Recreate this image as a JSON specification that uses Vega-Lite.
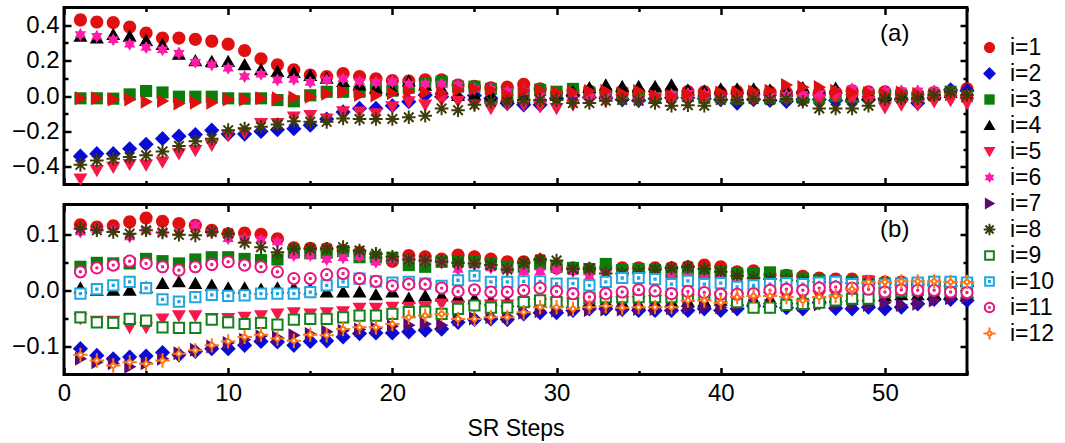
{
"$schema":"https://vega.github.io/schema/vega-lite/v6.json",
"background":"white",
"padding":{"left":5,"top":4.5,"right":0,"bottom":0},
"bounds":"flush",
"spacing":20,
"config":{"view":{"stroke":"black","strokeWidth":3},"font":"Liberation Sans","axis":{"domain":false,"grid":false,"tickColor":"black","tickWidth":2.5,"labelFont":"Liberation Sans","labelFontSize":24,"labelColor":"black","labelFlush":false,"titleFont":"Liberation Sans","titleFontSize":23,"titleFontWeight":"normal","titleColor":"black"}},
"resolve":{"scale":{"shape":"independent","fill":"independent","stroke":"independent"}},
"datasets":{
"a":[
{"i":1,"x":1,"y":0.43},{"i":1,"x":2,"y":0.418},{"i":1,"x":3,"y":0.415},{"i":1,"x":4,"y":0.39},{"i":1,"x":5,"y":0.356},{"i":1,"x":6,"y":0.327},{"i":1,"x":7,"y":0.327},{"i":1,"x":8,"y":0.32},{"i":1,"x":9,"y":0.31},{"i":1,"x":10,"y":0.293},{"i":1,"x":11,"y":0.257},{"i":1,"x":12,"y":0.21},{"i":1,"x":13,"y":0.176},{"i":1,"x":14,"y":0.148},{"i":1,"x":15,"y":0.119},{"i":1,"x":16,"y":0.11},{"i":1,"x":17,"y":0.127},{"i":1,"x":18,"y":0.11},{"i":1,"x":19,"y":0.097},{"i":1,"x":20,"y":0.087},{"i":1,"x":21,"y":0.085},{"i":1,"x":22,"y":0.091},{"i":1,"x":23,"y":0.091},{"i":1,"x":24,"y":0.062},{"i":1,"x":25,"y":0.055},{"i":1,"x":26,"y":0.047},{"i":1,"x":27,"y":0.05},{"i":1,"x":28,"y":0.066},{"i":1,"x":29,"y":0.04},{"i":1,"x":30,"y":0.015},{"i":1,"x":31,"y":0.03},{"i":1,"x":32,"y":0.028},{"i":1,"x":33,"y":0.02},{"i":1,"x":34,"y":0.025},{"i":1,"x":35,"y":0.02},{"i":1,"x":36,"y":0.025},{"i":1,"x":37,"y":0.03},{"i":1,"x":38,"y":0.025},{"i":1,"x":39,"y":0.024},{"i":1,"x":40,"y":0.02},{"i":1,"x":41,"y":0.025},{"i":1,"x":42,"y":0.02},{"i":1,"x":43,"y":0.022},{"i":1,"x":44,"y":0.02},{"i":1,"x":45,"y":0.018},{"i":1,"x":46,"y":0.02},{"i":1,"x":47,"y":0.02},{"i":1,"x":48,"y":0.03},{"i":1,"x":49,"y":0.024},{"i":1,"x":50,"y":0.024},{"i":1,"x":51,"y":0.015},{"i":1,"x":52,"y":0.01},{"i":1,"x":53,"y":0.02},{"i":1,"x":54,"y":0.025},{"i":1,"x":55,"y":0.04},
{"i":2,"x":1,"y":-0.34},{"i":2,"x":2,"y":-0.326},{"i":2,"x":3,"y":-0.326},{"i":2,"x":4,"y":-0.298},{"i":2,"x":5,"y":-0.273},{"i":2,"x":6,"y":-0.241},{"i":2,"x":7,"y":-0.227},{"i":2,"x":8,"y":-0.218},{"i":2,"x":9,"y":-0.193},{"i":2,"x":10,"y":-0.215},{"i":2,"x":11,"y":-0.215},{"i":2,"x":12,"y":-0.2},{"i":2,"x":13,"y":-0.19},{"i":2,"x":14,"y":-0.185},{"i":2,"x":15,"y":-0.165},{"i":2,"x":16,"y":-0.13},{"i":2,"x":17,"y":-0.09},{"i":2,"x":18,"y":-0.07},{"i":2,"x":19,"y":-0.07},{"i":2,"x":20,"y":-0.055},{"i":2,"x":21,"y":-0.032},{"i":2,"x":22,"y":0.005},{"i":2,"x":23,"y":-0.004},{"i":2,"x":24,"y":-0.01},{"i":2,"x":25,"y":0.003},{"i":2,"x":26,"y":-0.013},{"i":2,"x":27,"y":-0.042},{"i":2,"x":28,"y":-0.05},{"i":2,"x":29,"y":-0.05},{"i":2,"x":30,"y":-0.013},{"i":2,"x":31,"y":0.006},{"i":2,"x":32,"y":-0.008},{"i":2,"x":33,"y":-0.013},{"i":2,"x":34,"y":-0.02},{"i":2,"x":35,"y":-0.025},{"i":2,"x":36,"y":-0.015},{"i":2,"x":37,"y":-0.01},{"i":2,"x":38,"y":-0.01},{"i":2,"x":39,"y":-0.015},{"i":2,"x":40,"y":-0.02},{"i":2,"x":41,"y":-0.04},{"i":2,"x":42,"y":-0.02},{"i":2,"x":43,"y":-0.025},{"i":2,"x":44,"y":-0.03},{"i":2,"x":45,"y":-0.02},{"i":2,"x":46,"y":-0.02},{"i":2,"x":47,"y":-0.025},{"i":2,"x":48,"y":-0.03},{"i":2,"x":49,"y":-0.02},{"i":2,"x":50,"y":-0.015},{"i":2,"x":51,"y":-0.02},{"i":2,"x":52,"y":-0.04},{"i":2,"x":53,"y":-0.01},{"i":2,"x":54,"y":0.035},{"i":2,"x":55,"y":0.03},
{"i":3,"x":1,"y":-0.013},{"i":3,"x":2,"y":-0.013},{"i":3,"x":3,"y":-0.015},{"i":3,"x":4,"y":0.009},{"i":3,"x":5,"y":0.028},{"i":3,"x":6,"y":0.02},{"i":3,"x":7,"y":-0.004},{"i":3,"x":8,"y":-0.004},{"i":3,"x":9,"y":-0.004},{"i":3,"x":10,"y":-0.013},{"i":3,"x":11,"y":-0.015},{"i":3,"x":12,"y":-0.013},{"i":3,"x":13,"y":-0.023},{"i":3,"x":14,"y":-0.03},{"i":3,"x":15,"y":0.004},{"i":3,"x":16,"y":0.024},{"i":3,"x":17,"y":0.024},{"i":3,"x":18,"y":0.024},{"i":3,"x":19,"y":0.04},{"i":3,"x":20,"y":0.03},{"i":3,"x":21,"y":0.047},{"i":3,"x":22,"y":0.072},{"i":3,"x":23,"y":0.081},{"i":3,"x":24,"y":0.053},{"i":3,"x":25,"y":0.053},{"i":3,"x":26,"y":0.04},{"i":3,"x":27,"y":0.01},{"i":3,"x":28,"y":0.015},{"i":3,"x":29,"y":0.034},{"i":3,"x":30,"y":0.024},{"i":3,"x":31,"y":0.04},{"i":3,"x":32,"y":0.02},{"i":3,"x":33,"y":0.01},{"i":3,"x":34,"y":0.015},{"i":3,"x":35,"y":0.005},{"i":3,"x":36,"y":0},{"i":3,"x":37,"y":0.01},{"i":3,"x":38,"y":0},{"i":3,"x":39,"y":-0.01},{"i":3,"x":40,"y":-0.005},{"i":3,"x":41,"y":-0.015},{"i":3,"x":42,"y":0.005},{"i":3,"x":43,"y":-0.01},{"i":3,"x":44,"y":-0.005},{"i":3,"x":45,"y":-0.01},{"i":3,"x":46,"y":-0.01},{"i":3,"x":47,"y":0},{"i":3,"x":48,"y":-0.005},{"i":3,"x":49,"y":0},{"i":3,"x":50,"y":0.006},{"i":3,"x":51,"y":0.006},{"i":3,"x":52,"y":-0.005},{"i":3,"x":53,"y":0.006},{"i":3,"x":54,"y":0.024},{"i":3,"x":55,"y":0},
{"i":4,"x":1,"y":0.337},{"i":4,"x":2,"y":0.327},{"i":4,"x":3,"y":0.347},{"i":4,"x":4,"y":0.337},{"i":4,"x":5,"y":0.313},{"i":4,"x":6,"y":0.29},{"i":4,"x":7,"y":0.236},{"i":4,"x":8,"y":0.199},{"i":4,"x":9,"y":0.195},{"i":4,"x":10,"y":0.195},{"i":4,"x":11,"y":0.176},{"i":4,"x":12,"y":0.148},{"i":4,"x":13,"y":0.138},{"i":4,"x":14,"y":0.133},{"i":4,"x":15,"y":0.116},{"i":4,"x":16,"y":0.1},{"i":4,"x":17,"y":0.081},{"i":4,"x":18,"y":0.062},{"i":4,"x":19,"y":0.045},{"i":4,"x":20,"y":0.035},{"i":4,"x":21,"y":0.085},{"i":4,"x":22,"y":0.06},{"i":4,"x":23,"y":0.04},{"i":4,"x":24,"y":0.003},{"i":4,"x":25,"y":0.006},{"i":4,"x":26,"y":0.005},{"i":4,"x":27,"y":-0.01},{"i":4,"x":28,"y":-0.01},{"i":4,"x":29,"y":0},{"i":4,"x":30,"y":0.006},{"i":4,"x":31,"y":0.024},{"i":4,"x":32,"y":0.047},{"i":4,"x":33,"y":0.062},{"i":4,"x":34,"y":0.053},{"i":4,"x":35,"y":0.053},{"i":4,"x":36,"y":0.053},{"i":4,"x":37,"y":0.062},{"i":4,"x":38,"y":0.034},{"i":4,"x":39,"y":0.028},{"i":4,"x":40,"y":0.04},{"i":4,"x":41,"y":0.04},{"i":4,"x":42,"y":0.04},{"i":4,"x":43,"y":0.034},{"i":4,"x":44,"y":0.028},{"i":4,"x":45,"y":0.047},{"i":4,"x":46,"y":0.034},{"i":4,"x":47,"y":0.043},{"i":4,"x":48,"y":0.01},{"i":4,"x":49,"y":0.005},{"i":4,"x":50,"y":0},{"i":4,"x":51,"y":0},{"i":4,"x":52,"y":0.005},{"i":4,"x":53,"y":0.01},{"i":4,"x":54,"y":0.02},{"i":4,"x":55,"y":0.015},
{"i":5,"x":1,"y":-0.468},{"i":5,"x":2,"y":-0.42},{"i":5,"x":3,"y":-0.402},{"i":5,"x":4,"y":-0.386},{"i":5,"x":5,"y":-0.39},{"i":5,"x":6,"y":-0.373},{"i":5,"x":7,"y":-0.326},{"i":5,"x":8,"y":-0.307},{"i":5,"x":9,"y":-0.278},{"i":5,"x":10,"y":-0.222},{"i":5,"x":11,"y":-0.207},{"i":5,"x":12,"y":-0.155},{"i":5,"x":13,"y":-0.155},{"i":5,"x":14,"y":-0.118},{"i":5,"x":15,"y":-0.11},{"i":5,"x":16,"y":-0.13},{"i":5,"x":17,"y":-0.089},{"i":5,"x":18,"y":-0.09},{"i":5,"x":19,"y":-0.1},{"i":5,"x":20,"y":-0.06},{"i":5,"x":21,"y":-0.032},{"i":5,"x":22,"y":-0.05},{"i":5,"x":23,"y":-0.022},{"i":5,"x":24,"y":-0.03},{"i":5,"x":25,"y":-0.05},{"i":5,"x":26,"y":-0.07},{"i":5,"x":27,"y":-0.05},{"i":5,"x":28,"y":-0.05},{"i":5,"x":29,"y":-0.06},{"i":5,"x":30,"y":-0.07},{"i":5,"x":31,"y":-0.05},{"i":5,"x":32,"y":-0.03},{"i":5,"x":33,"y":-0.03},{"i":5,"x":34,"y":-0.02},{"i":5,"x":35,"y":-0.025},{"i":5,"x":36,"y":-0.02},{"i":5,"x":37,"y":-0.02},{"i":5,"x":38,"y":-0.02},{"i":5,"x":39,"y":-0.015},{"i":5,"x":40,"y":-0.02},{"i":5,"x":41,"y":-0.015},{"i":5,"x":42,"y":-0.02},{"i":5,"x":43,"y":-0.01},{"i":5,"x":44,"y":-0.02},{"i":5,"x":45,"y":-0.015},{"i":5,"x":46,"y":-0.02},{"i":5,"x":47,"y":-0.01},{"i":5,"x":48,"y":-0.02},{"i":5,"x":49,"y":-0.03},{"i":5,"x":50,"y":-0.066},{"i":5,"x":51,"y":-0.05},{"i":5,"x":52,"y":-0.05},{"i":5,"x":53,"y":-0.032},{"i":5,"x":54,"y":-0.025},{"i":5,"x":55,"y":-0.042},
{"i":6,"x":1,"y":0.347},{"i":6,"x":2,"y":0.337},{"i":6,"x":3,"y":0.318},{"i":6,"x":4,"y":0.293},{"i":6,"x":5,"y":0.274},{"i":6,"x":6,"y":0.261},{"i":6,"x":7,"y":0.242},{"i":6,"x":8,"y":0.191},{"i":6,"x":9,"y":0.176},{"i":6,"x":10,"y":0.157},{"i":6,"x":11,"y":0.11},{"i":6,"x":12,"y":0.123},{"i":6,"x":13,"y":0.091},{"i":6,"x":14,"y":0.093},{"i":6,"x":15,"y":0.077},{"i":6,"x":16,"y":0.091},{"i":6,"x":17,"y":0.097},{"i":6,"x":18,"y":0.082},{"i":6,"x":19,"y":0.077},{"i":6,"x":20,"y":0.08},{"i":6,"x":21,"y":0.067},{"i":6,"x":22,"y":0.067},{"i":6,"x":23,"y":0.067},{"i":6,"x":24,"y":0.062},{"i":6,"x":25,"y":0.04},{"i":6,"x":26,"y":0.04},{"i":6,"x":27,"y":0.025},{"i":6,"x":28,"y":0.025},{"i":6,"x":29,"y":0},{"i":6,"x":30,"y":0.01},{"i":6,"x":31,"y":0.01},{"i":6,"x":32,"y":-0.005},{"i":6,"x":33,"y":0},{"i":6,"x":34,"y":-0.01},{"i":6,"x":35,"y":-0.02},{"i":6,"x":36,"y":0},{"i":6,"x":37,"y":0.01},{"i":6,"x":38,"y":0.015},{"i":6,"x":39,"y":0.01},{"i":6,"x":40,"y":0},{"i":6,"x":41,"y":0.005},{"i":6,"x":42,"y":0},{"i":6,"x":43,"y":0},{"i":6,"x":44,"y":0.005},{"i":6,"x":45,"y":0.01},{"i":6,"x":46,"y":0.015},{"i":6,"x":47,"y":0.025},{"i":6,"x":48,"y":0.04},{"i":6,"x":49,"y":0.027},{"i":6,"x":50,"y":0.027},{"i":6,"x":51,"y":0.03},{"i":6,"x":52,"y":0.03},{"i":6,"x":53,"y":0.03},{"i":6,"x":54,"y":0.02},{"i":6,"x":55,"y":0.01},
{"i":7,"x":1,"y":-0.013},{"i":7,"x":2,"y":-0.013},{"i":7,"x":3,"y":-0.02},{"i":7,"x":4,"y":-0.02},{"i":7,"x":5,"y":-0.032},{"i":7,"x":6,"y":-0.028},{"i":7,"x":7,"y":-0.042},{"i":7,"x":8,"y":-0.038},{"i":7,"x":9,"y":-0.038},{"i":7,"x":10,"y":-0.02},{"i":7,"x":11,"y":-0.02},{"i":7,"x":12,"y":-0.013},{"i":7,"x":13,"y":-0.013},{"i":7,"x":14,"y":-0.009},{"i":7,"x":15,"y":-0.004},{"i":7,"x":16,"y":0.013},{"i":7,"x":17,"y":0.024},{"i":7,"x":18,"y":0.006},{"i":7,"x":19,"y":0.003},{"i":7,"x":20,"y":0.015},{"i":7,"x":21,"y":0.024},{"i":7,"x":22,"y":0.02},{"i":7,"x":23,"y":0.02},{"i":7,"x":24,"y":0.034},{"i":7,"x":25,"y":0.04},{"i":7,"x":26,"y":0.034},{"i":7,"x":27,"y":0.006},{"i":7,"x":28,"y":0.028},{"i":7,"x":29,"y":0.034},{"i":7,"x":30,"y":0.02},{"i":7,"x":31,"y":0.02},{"i":7,"x":32,"y":0.028},{"i":7,"x":33,"y":0.028},{"i":7,"x":34,"y":0.015},{"i":7,"x":35,"y":0.028},{"i":7,"x":36,"y":0},{"i":7,"x":37,"y":0},{"i":7,"x":38,"y":0.01},{"i":7,"x":39,"y":0.005},{"i":7,"x":40,"y":0.02},{"i":7,"x":41,"y":0.02},{"i":7,"x":42,"y":0.025},{"i":7,"x":43,"y":0.03},{"i":7,"x":44,"y":0.062},{"i":7,"x":45,"y":0.05},{"i":7,"x":46,"y":0.05},{"i":7,"x":47,"y":0.03},{"i":7,"x":48,"y":0.02},{"i":7,"x":49,"y":0.015},{"i":7,"x":50,"y":0.01},{"i":7,"x":51,"y":0.02},{"i":7,"x":52,"y":0.01},{"i":7,"x":53,"y":0.005},{"i":7,"x":54,"y":0.01},{"i":7,"x":55,"y":0},
{"i":8,"x":1,"y":-0.389},{"i":8,"x":2,"y":-0.364},{"i":8,"x":3,"y":-0.355},{"i":8,"x":4,"y":-0.345},{"i":8,"x":5,"y":-0.335},{"i":8,"x":6,"y":-0.313},{"i":8,"x":7,"y":-0.282},{"i":8,"x":8,"y":-0.256},{"i":8,"x":9,"y":-0.241},{"i":8,"x":10,"y":-0.193},{"i":8,"x":11,"y":-0.184},{"i":8,"x":12,"y":-0.174},{"i":8,"x":13,"y":-0.161},{"i":8,"x":14,"y":-0.142},{"i":8,"x":15,"y":-0.146},{"i":8,"x":16,"y":-0.146},{"i":8,"x":17,"y":-0.127},{"i":8,"x":18,"y":-0.13},{"i":8,"x":19,"y":-0.13},{"i":8,"x":20,"y":-0.13},{"i":8,"x":21,"y":-0.12},{"i":8,"x":22,"y":-0.112},{"i":8,"x":23,"y":-0.07},{"i":8,"x":24,"y":-0.08},{"i":8,"x":25,"y":-0.05},{"i":8,"x":26,"y":-0.032},{"i":8,"x":27,"y":-0.032},{"i":8,"x":28,"y":-0.022},{"i":8,"x":29,"y":-0.022},{"i":8,"x":30,"y":-0.022},{"i":8,"x":31,"y":-0.04},{"i":8,"x":32,"y":-0.04},{"i":8,"x":33,"y":-0.027},{"i":8,"x":34,"y":-0.022},{"i":8,"x":35,"y":-0.027},{"i":8,"x":36,"y":-0.04},{"i":8,"x":37,"y":-0.055},{"i":8,"x":38,"y":-0.052},{"i":8,"x":39,"y":-0.055},{"i":8,"x":40,"y":-0.022},{"i":8,"x":41,"y":-0.022},{"i":8,"x":42,"y":-0.017},{"i":8,"x":43,"y":-0.022},{"i":8,"x":44,"y":-0.017},{"i":8,"x":45,"y":-0.032},{"i":8,"x":46,"y":-0.07},{"i":8,"x":47,"y":-0.07},{"i":8,"x":48,"y":-0.07},{"i":8,"x":49,"y":-0.055},{"i":8,"x":50,"y":-0.017},{"i":8,"x":51,"y":-0.013},{"i":8,"x":52,"y":-0.013},{"i":8,"x":53,"y":0.006},{"i":8,"x":54,"y":0.024},{"i":8,"x":55,"y":0.006}
],
"b":[
{"i":1,"x":1,"y":0.117},{"i":1,"x":2,"y":0.113},{"i":1,"x":3,"y":0.115},{"i":1,"x":4,"y":0.122},{"i":1,"x":5,"y":0.129},{"i":1,"x":6,"y":0.123},{"i":1,"x":7,"y":0.119},{"i":1,"x":8,"y":0.116},{"i":1,"x":9,"y":0.107},{"i":1,"x":10,"y":0.101},{"i":1,"x":11,"y":0.102},{"i":1,"x":12,"y":0.1},{"i":1,"x":13,"y":0.092},{"i":1,"x":14,"y":0.076},{"i":1,"x":15,"y":0.075},{"i":1,"x":16,"y":0.074},{"i":1,"x":17,"y":0.071},{"i":1,"x":18,"y":0.068},{"i":1,"x":19,"y":0.058},{"i":1,"x":20,"y":0.052},{"i":1,"x":21,"y":0.062},{"i":1,"x":22,"y":0.06},{"i":1,"x":23,"y":0.056},{"i":1,"x":24,"y":0.063},{"i":1,"x":25,"y":0.06},{"i":1,"x":26,"y":0.056},{"i":1,"x":27,"y":0.051},{"i":1,"x":28,"y":0.051},{"i":1,"x":29,"y":0.054},{"i":1,"x":30,"y":0.04},{"i":1,"x":31,"y":0.04},{"i":1,"x":32,"y":0.038},{"i":1,"x":33,"y":0.04},{"i":1,"x":34,"y":0.04},{"i":1,"x":35,"y":0.04},{"i":1,"x":36,"y":0.04},{"i":1,"x":37,"y":0.04},{"i":1,"x":38,"y":0.042},{"i":1,"x":39,"y":0.045},{"i":1,"x":40,"y":0.042},{"i":1,"x":41,"y":0.033},{"i":1,"x":42,"y":0.035},{"i":1,"x":43,"y":0.028},{"i":1,"x":44,"y":0.027},{"i":1,"x":45,"y":0.025},{"i":1,"x":46,"y":0.022},{"i":1,"x":47,"y":0.02},{"i":1,"x":48,"y":0.02},{"i":1,"x":49,"y":0.016},{"i":1,"x":50,"y":0.015},{"i":1,"x":51,"y":0.015},{"i":1,"x":52,"y":0.012},{"i":1,"x":53,"y":0.012},{"i":1,"x":54,"y":0.01},{"i":1,"x":55,"y":0.01},
{"i":2,"x":1,"y":-0.104},{"i":2,"x":2,"y":-0.116},{"i":2,"x":3,"y":-0.122},{"i":2,"x":4,"y":-0.119},{"i":2,"x":5,"y":-0.117},{"i":2,"x":6,"y":-0.111},{"i":2,"x":7,"y":-0.115},{"i":2,"x":8,"y":-0.109},{"i":2,"x":9,"y":-0.104},{"i":2,"x":10,"y":-0.104},{"i":2,"x":11,"y":-0.098},{"i":2,"x":12,"y":-0.091},{"i":2,"x":13,"y":-0.092},{"i":2,"x":14,"y":-0.098},{"i":2,"x":15,"y":-0.091},{"i":2,"x":16,"y":-0.09},{"i":2,"x":17,"y":-0.083},{"i":2,"x":18,"y":-0.077},{"i":2,"x":19,"y":-0.076},{"i":2,"x":20,"y":-0.076},{"i":2,"x":21,"y":-0.074},{"i":2,"x":22,"y":-0.071},{"i":2,"x":23,"y":-0.069},{"i":2,"x":24,"y":-0.057},{"i":2,"x":25,"y":-0.052},{"i":2,"x":26,"y":-0.051},{"i":2,"x":27,"y":-0.052},{"i":2,"x":28,"y":-0.042},{"i":2,"x":29,"y":-0.04},{"i":2,"x":30,"y":-0.04},{"i":2,"x":31,"y":-0.036},{"i":2,"x":32,"y":-0.033},{"i":2,"x":33,"y":-0.033},{"i":2,"x":34,"y":-0.034},{"i":2,"x":35,"y":-0.036},{"i":2,"x":36,"y":-0.036},{"i":2,"x":37,"y":-0.036},{"i":2,"x":38,"y":-0.036},{"i":2,"x":39,"y":-0.033},{"i":2,"x":40,"y":-0.036},{"i":2,"x":41,"y":-0.033},{"i":2,"x":42,"y":-0.028},{"i":2,"x":43,"y":-0.029},{"i":2,"x":44,"y":-0.031},{"i":2,"x":45,"y":-0.033},{"i":2,"x":46,"y":-0.022},{"i":2,"x":47,"y":-0.032},{"i":2,"x":48,"y":-0.033},{"i":2,"x":49,"y":-0.03},{"i":2,"x":50,"y":-0.033},{"i":2,"x":51,"y":-0.03},{"i":2,"x":52,"y":-0.024},{"i":2,"x":53,"y":-0.016},{"i":2,"x":54,"y":-0.016},{"i":2,"x":55,"y":-0.018},
{"i":3,"x":1,"y":0.042},{"i":3,"x":2,"y":0.049},{"i":3,"x":3,"y":0.048},{"i":3,"x":4,"y":0.048},{"i":3,"x":5,"y":0.056},{"i":3,"x":6,"y":0.052},{"i":3,"x":7,"y":0.048},{"i":3,"x":8,"y":0.055},{"i":3,"x":9,"y":0.059},{"i":3,"x":10,"y":0.059},{"i":3,"x":11,"y":0.056},{"i":3,"x":12,"y":0.054},{"i":3,"x":13,"y":0.055},{"i":3,"x":14,"y":0.068},{"i":3,"x":15,"y":0.066},{"i":3,"x":16,"y":0.067},{"i":3,"x":17,"y":0.07},{"i":3,"x":18,"y":0.059},{"i":3,"x":19,"y":0.059},{"i":3,"x":20,"y":0.058},{"i":3,"x":21,"y":0.045},{"i":3,"x":22,"y":0.042},{"i":3,"x":23,"y":0.051},{"i":3,"x":24,"y":0.052},{"i":3,"x":25,"y":0.051},{"i":3,"x":26,"y":0.047},{"i":3,"x":27,"y":0.042},{"i":3,"x":28,"y":0.042},{"i":3,"x":29,"y":0.047},{"i":3,"x":30,"y":0.042},{"i":3,"x":31,"y":0.04},{"i":3,"x":32,"y":0.038},{"i":3,"x":33,"y":0.047},{"i":3,"x":34,"y":0.036},{"i":3,"x":35,"y":0.038},{"i":3,"x":36,"y":0.036},{"i":3,"x":37,"y":0.032},{"i":3,"x":38,"y":0.033},{"i":3,"x":39,"y":0.032},{"i":3,"x":40,"y":0.033},{"i":3,"x":41,"y":0.03},{"i":3,"x":42,"y":0.03},{"i":3,"x":43,"y":0.032},{"i":3,"x":44,"y":0.026},{"i":3,"x":45,"y":0.021},{"i":3,"x":46,"y":0.018},{"i":3,"x":47,"y":0.016},{"i":3,"x":48,"y":0.015},{"i":3,"x":49,"y":0.016},{"i":3,"x":50,"y":0.012},{"i":3,"x":51,"y":0.012},{"i":3,"x":52,"y":0.012},{"i":3,"x":53,"y":0.015},{"i":3,"x":54,"y":0.012},{"i":3,"x":55,"y":0.009},
{"i":4,"x":1,"y":0.004},{"i":4,"x":2,"y":0},{"i":4,"x":3,"y":0},{"i":4,"x":4,"y":0},{"i":4,"x":5,"y":0.005},{"i":4,"x":6,"y":0.012},{"i":4,"x":7,"y":0.015},{"i":4,"x":8,"y":0.012},{"i":4,"x":9,"y":0.009},{"i":4,"x":10,"y":0.004},{"i":4,"x":11,"y":0.004},{"i":4,"x":12,"y":0.002},{"i":4,"x":13,"y":0.004},{"i":4,"x":14,"y":0.004},{"i":4,"x":15,"y":0.002},{"i":4,"x":16,"y":-0.003},{"i":4,"x":17,"y":-0.003},{"i":4,"x":18,"y":-0.003},{"i":4,"x":19,"y":-0.008},{"i":4,"x":20,"y":-0.003},{"i":4,"x":21,"y":-0.014},{"i":4,"x":22,"y":-0.01},{"i":4,"x":23,"y":-0.01},{"i":4,"x":24,"y":-0.012},{"i":4,"x":25,"y":-0.015},{"i":4,"x":26,"y":-0.018},{"i":4,"x":27,"y":-0.02},{"i":4,"x":28,"y":-0.02},{"i":4,"x":29,"y":-0.022},{"i":4,"x":30,"y":-0.02},{"i":4,"x":31,"y":-0.022},{"i":4,"x":32,"y":-0.02},{"i":4,"x":33,"y":-0.02},{"i":4,"x":34,"y":-0.022},{"i":4,"x":35,"y":-0.025},{"i":4,"x":36,"y":-0.022},{"i":4,"x":37,"y":-0.02},{"i":4,"x":38,"y":-0.02},{"i":4,"x":39,"y":-0.02},{"i":4,"x":40,"y":-0.018},{"i":4,"x":41,"y":-0.018},{"i":4,"x":42,"y":-0.016},{"i":4,"x":43,"y":-0.015},{"i":4,"x":44,"y":-0.015},{"i":4,"x":45,"y":-0.015},{"i":4,"x":46,"y":-0.012},{"i":4,"x":47,"y":-0.012},{"i":4,"x":48,"y":-0.01},{"i":4,"x":49,"y":-0.01},{"i":4,"x":50,"y":-0.01},{"i":4,"x":51,"y":-0.008},{"i":4,"x":52,"y":-0.008},{"i":4,"x":53,"y":-0.006},{"i":4,"x":54,"y":-0.006},{"i":4,"x":55,"y":-0.005},
{"i":5,"x":1,"y":-0.05},{"i":5,"x":2,"y":-0.055},{"i":5,"x":3,"y":-0.055},{"i":5,"x":4,"y":-0.066},{"i":5,"x":5,"y":-0.066},{"i":5,"x":6,"y":-0.051},{"i":5,"x":7,"y":-0.045},{"i":5,"x":8,"y":-0.045},{"i":5,"x":9,"y":-0.05},{"i":5,"x":10,"y":-0.05},{"i":5,"x":11,"y":-0.048},{"i":5,"x":12,"y":-0.045},{"i":5,"x":13,"y":-0.042},{"i":5,"x":14,"y":-0.04},{"i":5,"x":15,"y":-0.042},{"i":5,"x":16,"y":-0.04},{"i":5,"x":17,"y":-0.038},{"i":5,"x":18,"y":-0.032},{"i":5,"x":19,"y":-0.032},{"i":5,"x":20,"y":-0.03},{"i":5,"x":21,"y":-0.03},{"i":5,"x":22,"y":-0.03},{"i":5,"x":23,"y":-0.024},{"i":5,"x":24,"y":-0.028},{"i":5,"x":25,"y":-0.028},{"i":5,"x":26,"y":-0.026},{"i":5,"x":27,"y":-0.026},{"i":5,"x":28,"y":-0.024},{"i":5,"x":29,"y":-0.024},{"i":5,"x":30,"y":-0.024},{"i":5,"x":31,"y":-0.022},{"i":5,"x":32,"y":-0.022},{"i":5,"x":33,"y":-0.02},{"i":5,"x":34,"y":-0.02},{"i":5,"x":35,"y":-0.02},{"i":5,"x":36,"y":-0.018},{"i":5,"x":37,"y":-0.018},{"i":5,"x":38,"y":-0.016},{"i":5,"x":39,"y":-0.016},{"i":5,"x":40,"y":-0.015},{"i":5,"x":41,"y":-0.015},{"i":5,"x":42,"y":-0.014},{"i":5,"x":43,"y":-0.012},{"i":5,"x":44,"y":-0.012},{"i":5,"x":45,"y":-0.01},{"i":5,"x":46,"y":-0.01},{"i":5,"x":47,"y":-0.008},{"i":5,"x":48,"y":-0.005},{"i":5,"x":49,"y":0.016},{"i":5,"x":50,"y":-0.004},{"i":5,"x":51,"y":-0.003},{"i":5,"x":52,"y":-0.003},{"i":5,"x":53,"y":-0.002},{"i":5,"x":54,"y":-0.002},{"i":5,"x":55,"y":-0.002},
{"i":6,"x":1,"y":0.104},{"i":6,"x":2,"y":0.108},{"i":6,"x":3,"y":0.108},{"i":6,"x":4,"y":0.095},{"i":6,"x":5,"y":0.107},{"i":6,"x":6,"y":0.103},{"i":6,"x":7,"y":0.103},{"i":6,"x":8,"y":0.116},{"i":6,"x":9,"y":0.105},{"i":6,"x":10,"y":0.092},{"i":6,"x":11,"y":0.092},{"i":6,"x":12,"y":0.09},{"i":6,"x":13,"y":0.086},{"i":6,"x":14,"y":0.062},{"i":6,"x":15,"y":0.062},{"i":6,"x":16,"y":0.055},{"i":6,"x":17,"y":0.058},{"i":6,"x":18,"y":0.06},{"i":6,"x":19,"y":0.05},{"i":6,"x":20,"y":0.055},{"i":6,"x":21,"y":0.055},{"i":6,"x":22,"y":0.053},{"i":6,"x":23,"y":0.05},{"i":6,"x":24,"y":0.037},{"i":6,"x":25,"y":0.045},{"i":6,"x":26,"y":0.04},{"i":6,"x":27,"y":0.037},{"i":6,"x":28,"y":0.033},{"i":6,"x":29,"y":0.033},{"i":6,"x":30,"y":0.037},{"i":6,"x":31,"y":0.033},{"i":6,"x":32,"y":0.024},{"i":6,"x":33,"y":0.03},{"i":6,"x":34,"y":0.028},{"i":6,"x":35,"y":0.026},{"i":6,"x":36,"y":0.025},{"i":6,"x":37,"y":0.025},{"i":6,"x":38,"y":0.025},{"i":6,"x":39,"y":0.022},{"i":6,"x":40,"y":0.02},{"i":6,"x":41,"y":0.012},{"i":6,"x":42,"y":0.015},{"i":6,"x":43,"y":0.014},{"i":6,"x":44,"y":0.014},{"i":6,"x":45,"y":0.012},{"i":6,"x":46,"y":0.01},{"i":6,"x":47,"y":0.01},{"i":6,"x":48,"y":0.01},{"i":6,"x":49,"y":0.01},{"i":6,"x":50,"y":0.008},{"i":6,"x":51,"y":0.008},{"i":6,"x":52,"y":0.008},{"i":6,"x":53,"y":0.006},{"i":6,"x":54,"y":0.006},{"i":6,"x":55,"y":0.005},
{"i":7,"x":1,"y":-0.122},{"i":7,"x":2,"y":-0.128},{"i":7,"x":3,"y":-0.13},{"i":7,"x":4,"y":-0.136},{"i":7,"x":5,"y":-0.13},{"i":7,"x":6,"y":-0.122},{"i":7,"x":7,"y":-0.112},{"i":7,"x":8,"y":-0.106},{"i":7,"x":9,"y":-0.1},{"i":7,"x":10,"y":-0.094},{"i":7,"x":11,"y":-0.088},{"i":7,"x":12,"y":-0.082},{"i":7,"x":13,"y":-0.084},{"i":7,"x":14,"y":-0.08},{"i":7,"x":15,"y":-0.078},{"i":7,"x":16,"y":-0.074},{"i":7,"x":17,"y":-0.072},{"i":7,"x":18,"y":-0.07},{"i":7,"x":19,"y":-0.068},{"i":7,"x":20,"y":-0.064},{"i":7,"x":21,"y":-0.062},{"i":7,"x":22,"y":-0.06},{"i":7,"x":23,"y":-0.062},{"i":7,"x":24,"y":-0.052},{"i":7,"x":25,"y":-0.05},{"i":7,"x":26,"y":-0.048},{"i":7,"x":27,"y":-0.046},{"i":7,"x":28,"y":-0.04},{"i":7,"x":29,"y":-0.037},{"i":7,"x":30,"y":-0.036},{"i":7,"x":31,"y":-0.035},{"i":7,"x":32,"y":-0.035},{"i":7,"x":33,"y":-0.034},{"i":7,"x":34,"y":-0.034},{"i":7,"x":35,"y":-0.033},{"i":7,"x":36,"y":-0.033},{"i":7,"x":37,"y":-0.032},{"i":7,"x":38,"y":-0.03},{"i":7,"x":39,"y":-0.03},{"i":7,"x":40,"y":-0.03},{"i":7,"x":41,"y":-0.028},{"i":7,"x":42,"y":-0.027},{"i":7,"x":43,"y":-0.027},{"i":7,"x":44,"y":-0.026},{"i":7,"x":45,"y":-0.026},{"i":7,"x":46,"y":-0.025},{"i":7,"x":47,"y":-0.025},{"i":7,"x":48,"y":-0.025},{"i":7,"x":49,"y":-0.026},{"i":7,"x":50,"y":-0.022},{"i":7,"x":51,"y":-0.026},{"i":7,"x":52,"y":-0.024},{"i":7,"x":53,"y":-0.018},{"i":7,"x":54,"y":-0.014},{"i":7,"x":55,"y":-0.012},
{"i":8,"x":1,"y":0.11},{"i":8,"x":2,"y":0.107},{"i":8,"x":3,"y":0.104},{"i":8,"x":4,"y":0.101},{"i":8,"x":5,"y":0.107},{"i":8,"x":6,"y":0.103},{"i":8,"x":7,"y":0.099},{"i":8,"x":8,"y":0.098},{"i":8,"x":9,"y":0.104},{"i":8,"x":10,"y":0.101},{"i":8,"x":11,"y":0.085},{"i":8,"x":12,"y":0.077},{"i":8,"x":13,"y":0.068},{"i":8,"x":14,"y":0.074},{"i":8,"x":15,"y":0.074},{"i":8,"x":16,"y":0.074},{"i":8,"x":17,"y":0.077},{"i":8,"x":18,"y":0.071},{"i":8,"x":19,"y":0.065},{"i":8,"x":20,"y":0.06},{"i":8,"x":21,"y":0.055},{"i":8,"x":22,"y":0.053},{"i":8,"x":23,"y":0.051},{"i":8,"x":24,"y":0.049},{"i":8,"x":25,"y":0.048},{"i":8,"x":26,"y":0.045},{"i":8,"x":27,"y":0.037},{"i":8,"x":28,"y":0.049},{"i":8,"x":29,"y":0.055},{"i":8,"x":30,"y":0.053},{"i":8,"x":31,"y":0.038},{"i":8,"x":32,"y":0.039},{"i":8,"x":33,"y":0.03},{"i":8,"x":34,"y":0.03},{"i":8,"x":35,"y":0.032},{"i":8,"x":36,"y":0.037},{"i":8,"x":37,"y":0.04},{"i":8,"x":38,"y":0.042},{"i":8,"x":39,"y":0.038},{"i":8,"x":40,"y":0.033},{"i":8,"x":41,"y":0.026},{"i":8,"x":42,"y":0.022},{"i":8,"x":43,"y":0.02},{"i":8,"x":44,"y":0.018},{"i":8,"x":45,"y":0.016},{"i":8,"x":46,"y":0.015},{"i":8,"x":47,"y":0.014},{"i":8,"x":48,"y":0.013},{"i":8,"x":49,"y":0.012},{"i":8,"x":50,"y":0.012},{"i":8,"x":51,"y":0.01},{"i":8,"x":52,"y":0.01},{"i":8,"x":53,"y":0.01},{"i":8,"x":54,"y":0.008},{"i":8,"x":55,"y":0.008},
{"i":9,"x":1,"y":-0.048},{"i":9,"x":2,"y":-0.057},{"i":9,"x":3,"y":-0.058},{"i":9,"x":4,"y":-0.051},{"i":9,"x":5,"y":-0.054},{"i":9,"x":6,"y":-0.066},{"i":9,"x":7,"y":-0.067},{"i":9,"x":8,"y":-0.067},{"i":9,"x":9,"y":-0.052},{"i":9,"x":10,"y":-0.057},{"i":9,"x":11,"y":-0.06},{"i":9,"x":12,"y":-0.058},{"i":9,"x":13,"y":-0.061},{"i":9,"x":14,"y":-0.052},{"i":9,"x":15,"y":-0.051},{"i":9,"x":16,"y":-0.051},{"i":9,"x":17,"y":-0.048},{"i":9,"x":18,"y":-0.045},{"i":9,"x":19,"y":-0.045},{"i":9,"x":20,"y":-0.042},{"i":9,"x":21,"y":-0.039},{"i":9,"x":22,"y":-0.038},{"i":9,"x":23,"y":-0.042},{"i":9,"x":24,"y":-0.033},{"i":9,"x":25,"y":-0.027},{"i":9,"x":26,"y":-0.031},{"i":9,"x":27,"y":-0.031},{"i":9,"x":28,"y":-0.021},{"i":9,"x":29,"y":-0.018},{"i":9,"x":30,"y":-0.021},{"i":9,"x":31,"y":-0.024},{"i":9,"x":32,"y":-0.014},{"i":9,"x":33,"y":-0.012},{"i":9,"x":34,"y":-0.012},{"i":9,"x":35,"y":-0.012},{"i":9,"x":36,"y":-0.012},{"i":9,"x":37,"y":-0.012},{"i":9,"x":38,"y":-0.01},{"i":9,"x":39,"y":-0.008},{"i":9,"x":40,"y":-0.012},{"i":9,"x":41,"y":-0.021},{"i":9,"x":42,"y":-0.031},{"i":9,"x":43,"y":-0.031},{"i":9,"x":44,"y":-0.026},{"i":9,"x":45,"y":-0.024},{"i":9,"x":46,"y":-0.022},{"i":9,"x":47,"y":-0.018},{"i":9,"x":48,"y":-0.015},{"i":9,"x":49,"y":-0.015},{"i":9,"x":50,"y":-0.003},{"i":9,"x":51,"y":-0.002},{"i":9,"x":52,"y":0.001},{"i":9,"x":53,"y":0.002},{"i":9,"x":54,"y":-0.001},{"i":9,"x":55,"y":-0.003},
{"i":10,"x":1,"y":-0.006},{"i":10,"x":2,"y":0.002},{"i":10,"x":3,"y":0.009},{"i":10,"x":4,"y":0.015},{"i":10,"x":5,"y":0.004},{"i":10,"x":6,"y":-0.016},{"i":10,"x":7,"y":-0.02},{"i":10,"x":8,"y":-0.012},{"i":10,"x":9,"y":-0.008},{"i":10,"x":10,"y":-0.01},{"i":10,"x":11,"y":-0.009},{"i":10,"x":12,"y":-0.006},{"i":10,"x":13,"y":-0.006},{"i":10,"x":14,"y":-0.006},{"i":10,"x":15,"y":-0.003},{"i":10,"x":16,"y":0.009},{"i":10,"x":17,"y":0.015},{"i":10,"x":18,"y":0.021},{"i":10,"x":19,"y":0.016},{"i":10,"x":20,"y":0.014},{"i":10,"x":21,"y":0.015},{"i":10,"x":22,"y":0.012},{"i":10,"x":23,"y":0.008},{"i":10,"x":24,"y":0.018},{"i":10,"x":25,"y":0.026},{"i":10,"x":26,"y":0.015},{"i":10,"x":27,"y":0.015},{"i":10,"x":28,"y":0.016},{"i":10,"x":29,"y":0.016},{"i":10,"x":30,"y":0.012},{"i":10,"x":31,"y":0.012},{"i":10,"x":32,"y":0.009},{"i":10,"x":33,"y":0.015},{"i":10,"x":34,"y":0.022},{"i":10,"x":35,"y":0.022},{"i":10,"x":36,"y":0.02},{"i":10,"x":37,"y":0.011},{"i":10,"x":38,"y":0.017},{"i":10,"x":39,"y":0.011},{"i":10,"x":40,"y":0.013},{"i":10,"x":41,"y":0.006},{"i":10,"x":42,"y":0.009},{"i":10,"x":43,"y":0.011},{"i":10,"x":44,"y":0.013},{"i":10,"x":45,"y":0.011},{"i":10,"x":46,"y":0.014},{"i":10,"x":47,"y":0.015},{"i":10,"x":48,"y":0.011},{"i":10,"x":49,"y":0.007},{"i":10,"x":50,"y":0.01},{"i":10,"x":51,"y":0.012},{"i":10,"x":52,"y":0.014},{"i":10,"x":53,"y":0.015},{"i":10,"x":54,"y":0.015},{"i":10,"x":55,"y":0.014},
{"i":11,"x":1,"y":0.033},{"i":11,"x":2,"y":0.04},{"i":11,"x":3,"y":0.045},{"i":11,"x":4,"y":0.052},{"i":11,"x":5,"y":0.048},{"i":11,"x":6,"y":0.042},{"i":11,"x":7,"y":0.036},{"i":11,"x":8,"y":0.042},{"i":11,"x":9,"y":0.046},{"i":11,"x":10,"y":0.051},{"i":11,"x":11,"y":0.045},{"i":11,"x":12,"y":0.042},{"i":11,"x":13,"y":0.033},{"i":11,"x":14,"y":0.021},{"i":11,"x":15,"y":0.021},{"i":11,"x":16,"y":0.028},{"i":11,"x":17,"y":0.03},{"i":11,"x":18,"y":0.021},{"i":11,"x":19,"y":0.016},{"i":11,"x":20,"y":0.008},{"i":11,"x":21,"y":0.011},{"i":11,"x":22,"y":0.011},{"i":11,"x":23,"y":0.004},{"i":11,"x":24,"y":-0.002},{"i":11,"x":25,"y":0.001},{"i":11,"x":26,"y":-0.003},{"i":11,"x":27,"y":-0.003},{"i":11,"x":28,"y":0},{"i":11,"x":29,"y":0.004},{"i":11,"x":30,"y":-0.002},{"i":11,"x":31,"y":-0.006},{"i":11,"x":32,"y":-0.012},{"i":11,"x":33,"y":-0.006},{"i":11,"x":34,"y":-0.003},{"i":11,"x":35,"y":0.001},{"i":11,"x":36,"y":-0.001},{"i":11,"x":37,"y":-0.006},{"i":11,"x":38,"y":-0.002},{"i":11,"x":39,"y":-0.004},{"i":11,"x":40,"y":-0.007},{"i":11,"x":41,"y":-0.007},{"i":11,"x":42,"y":-0.006},{"i":11,"x":43,"y":0},{"i":11,"x":44,"y":0.002},{"i":11,"x":45,"y":0},{"i":11,"x":46,"y":0.004},{"i":11,"x":47,"y":0.006},{"i":11,"x":48,"y":0.004},{"i":11,"x":49,"y":0.002},{"i":11,"x":50,"y":-0.003},{"i":11,"x":51,"y":0.001},{"i":11,"x":52,"y":0},{"i":11,"x":53,"y":0},{"i":11,"x":54,"y":-0.003},{"i":11,"x":55,"y":-0.004},
{"i":12,"x":1,"y":-0.115},{"i":12,"x":2,"y":-0.125},{"i":12,"x":3,"y":-0.134},{"i":12,"x":4,"y":-0.128},{"i":12,"x":5,"y":-0.131},{"i":12,"x":6,"y":-0.125},{"i":12,"x":7,"y":-0.113},{"i":12,"x":8,"y":-0.107},{"i":12,"x":9,"y":-0.098},{"i":12,"x":10,"y":-0.091},{"i":12,"x":11,"y":-0.083},{"i":12,"x":12,"y":-0.079},{"i":12,"x":13,"y":-0.086},{"i":12,"x":14,"y":-0.09},{"i":12,"x":15,"y":-0.079},{"i":12,"x":16,"y":-0.08},{"i":12,"x":17,"y":-0.069},{"i":12,"x":18,"y":-0.066},{"i":12,"x":19,"y":-0.066},{"i":12,"x":20,"y":-0.06},{"i":12,"x":21,"y":-0.048},{"i":12,"x":22,"y":-0.045},{"i":12,"x":23,"y":-0.042},{"i":12,"x":24,"y":-0.051},{"i":12,"x":25,"y":-0.051},{"i":12,"x":26,"y":-0.048},{"i":12,"x":27,"y":-0.048},{"i":12,"x":28,"y":-0.039},{"i":12,"x":29,"y":-0.03},{"i":12,"x":30,"y":-0.03},{"i":12,"x":31,"y":-0.033},{"i":12,"x":32,"y":-0.03},{"i":12,"x":33,"y":-0.028},{"i":12,"x":34,"y":-0.031},{"i":12,"x":35,"y":-0.03},{"i":12,"x":36,"y":-0.03},{"i":12,"x":37,"y":-0.03},{"i":12,"x":38,"y":-0.018},{"i":12,"x":39,"y":-0.018},{"i":12,"x":40,"y":-0.022},{"i":12,"x":41,"y":-0.012},{"i":12,"x":42,"y":-0.01},{"i":12,"x":43,"y":-0.01},{"i":12,"x":44,"y":-0.012},{"i":12,"x":45,"y":-0.018},{"i":12,"x":46,"y":-0.012},{"i":12,"x":47,"y":-0.01},{"i":12,"x":48,"y":0.002},{"i":12,"x":49,"y":0.015},{"i":12,"x":50,"y":0.015},{"i":12,"x":51,"y":0.016},{"i":12,"x":52,"y":0.016},{"i":12,"x":53,"y":0.016},{"i":12,"x":54,"y":0.015},{"i":12,"x":55,"y":0.015}
]},
"vconcat":[
{"width":903,"height":177,"data":{"name":"a"},
"layer":[
{"mark":{"type":"point","size":255,"opacity":1,"strokeWidth":2,"clip":false},
"encoding":{
"x":{"field":"x","type":"quantitative","scale":{"domain":[0,55],"nice":false,"zero":false},"axis":{"orient":"bottom","values":[0,10,20,30,40,50],"tickSize":-7,"labels":false,"title":null}},
"y":{"field":"y","type":"quantitative","scale":{"domain":[-0.5,0.5],"nice":false,"zero":false},"axis":{"orient":"left","values":[-0.4,-0.2,0,0.2,0.4],"format":".1f","tickSize":-7,"labelPadding":12,"title":null,"minExtent":57,"maxExtent":57}},
"shape":{"field":"i","type":"nominal","legend":null,"scale":{"domain":[1,2,3,4,5,6,7,8],"range":["M0.82,0A0.82,0.82,0,1,1,-0.82,0A0.82,0.82,0,1,1,0.82,0Z","M0,-0.95L0.95,0L0,0.95L-0.95,0Z","M-0.76,-0.76H0.76V0.76H-0.76Z","M0,-0.85L0.88,0.68L-0.88,0.68Z","M0,0.85L0.88,-0.68L-0.88,-0.68Z","M0,-0.82L0.71,0.41L-0.71,0.41ZM0,0.82L-0.71,-0.41L0.71,-0.41Z","M0.85,0L-0.68,0.88L-0.68,-0.88Z","M0,-0.85V0.85M-0.85,0H0.85M-0.6,-0.6L0.6,0.6M-0.6,0.6L0.6,-0.6"]}},
"fill":{"field":"i","type":"nominal","legend":null,"scale":{"domain":[1,2,3,4,5,6,7,8],"range":["#e01010","#0a0ad8","#0b7d0b","#000000","#f7184b","#ff1ca6","#e01010","transparent"]}},
"stroke":{"field":"i","type":"nominal","legend":null,"scale":{"domain":[1,2,3,4,5,6,7,8],"range":["transparent","transparent","transparent","transparent","transparent","transparent","transparent","#3d3b0a"]}}
}},
{"mark":{"type":"point","opacity":0},
"encoding":{
"x":{"field":"x","type":"quantitative","scale":{"domain":[0,55],"nice":false,"zero":false},"axis":{"orient":"bottom","values":[5,15,25,35,45,55],"tickSize":-4,"labels":false,"title":null}},
"y":{"field":"y","type":"quantitative","scale":{"domain":[-0.5,0.5],"nice":false,"zero":false},"axis":{"orient":"left","values":[-0.3,-0.1,0.1,0.3],"tickSize":-4,"labels":false,"title":null}}}},
{"mark":{"type":"point","opacity":0},
"encoding":{
"x":{"field":"x","type":"quantitative","scale":{"domain":[0,55],"nice":false,"zero":false},"axis":{"orient":"top","values":[0,10,20,30,40,50],"tickSize":-7,"labels":false,"title":null}},
"y":{"field":"y","type":"quantitative","scale":{"domain":[-0.5,0.5],"nice":false,"zero":false},"axis":{"orient":"right","values":[-0.4,-0.2,0,0.2,0.4],"tickSize":-7,"labels":false,"title":null}}}},
{"mark":{"type":"point","opacity":0},
"encoding":{
"x":{"field":"x","type":"quantitative","scale":{"domain":[0,55],"nice":false,"zero":false},"axis":{"orient":"top","values":[5,15,25,35,45,55],"tickSize":-4,"labels":false,"title":null}},
"y":{"field":"y","type":"quantitative","scale":{"domain":[-0.5,0.5],"nice":false,"zero":false},"axis":{"orient":"right","values":[-0.3,-0.1,0.1,0.3],"tickSize":-4,"labels":false,"title":null}}}},
{"data":{"values":[{}]},"mark":{"type":"text","text":"(a)","fontSize":24,"font":"Liberation Sans","color":"black","align":"center","baseline":"middle"},
"encoding":{"x":{"datum":50.6,"type":"quantitative","axis":null},"y":{"datum":0.348,"type":"quantitative","axis":null}}}
],
"resolve":{"axis":{"x":"independent","y":"independent"}}},
{"width":903,"height":170,"data":{"name":"b"},
"layer":[
{"mark":{"type":"point","size":255,"opacity":1,"strokeWidth":2,"clip":false},
"encoding":{
"x":{"field":"x","type":"quantitative","scale":{"domain":[0,55],"nice":false,"zero":false},"axis":{"orient":"bottom","values":[0,10,20,30,40,50],"tickSize":-7,"labelPadding":14,"title":"SR Steps","titlePadding":12}},
"y":{"field":"y","type":"quantitative","scale":{"domain":[-0.15,0.153],"nice":false,"zero":false},"axis":{"orient":"left","values":[-0.1,0,0.1],"format":".1f","tickSize":-7,"labelPadding":12,"title":null,"minExtent":57,"maxExtent":57}},
"shape":{"field":"i","type":"nominal","legend":{"orient":"none","legendX":914,"legendY":-168.5,"title":null,"padding":0,"labelExpr":"'i=' + datum.label","labelFont":"Liberation Sans","labelFontSize":23,"labelColor":"black","labelOffset":9,"symbolSize":185,"symbolStrokeWidth":2,"rowPadding":2},"scale":{"domain":[1,2,3,4,5,6,7,8,9,10,11,12],"range":["M0.82,0A0.82,0.82,0,1,1,-0.82,0A0.82,0.82,0,1,1,0.82,0Z","M0,-0.95L0.95,0L0,0.95L-0.95,0Z","M-0.76,-0.76H0.76V0.76H-0.76Z","M0,-0.85L0.88,0.68L-0.88,0.68Z","M0,0.85L0.88,-0.68L-0.88,-0.68Z","M0,-0.82L0.71,0.41L-0.71,0.41ZM0,0.82L-0.71,-0.41L0.71,-0.41Z","M0.85,0L-0.68,0.88L-0.68,-0.88Z","M0,-0.85V0.85M-0.85,0H0.85M-0.6,-0.6L0.6,0.6M-0.6,0.6L0.6,-0.6","M-0.64,-0.64H0.64V0.64H-0.64Z","M-0.64,-0.64H0.64V0.64H-0.64ZM-0.08,-0.08H0.08V0.08H-0.08Z","M0.7,0A0.7,0.7,0,1,1,-0.7,0A0.7,0.7,0,1,1,0.7,0ZM0.09,0A0.09,0.09,0,1,1,-0.09,0A0.09,0.09,0,1,1,0.09,0Z","M0,-0.9V-0.28M0,0.28V0.9M-0.9,0H-0.28M0.28,0H0.9M0.28,0A0.28,0.28,0,1,1,-0.28,0A0.28,0.28,0,1,1,0.28,0Z"]}},
"fill":{"field":"i","type":"nominal","legend":{"orient":"none","legendX":914,"legendY":-168.5,"title":null,"padding":0,"labelExpr":"'i=' + datum.label","labelFont":"Liberation Sans","labelFontSize":23,"labelColor":"black","labelOffset":9,"symbolSize":185,"symbolStrokeWidth":2,"rowPadding":2},"scale":{"domain":[1,2,3,4,5,6,7,8,9,10,11,12],"range":["#e01010","#0a0ad8","#0b7d0b","#000000","#f7184b","#ff1ca6","#5b0a70","transparent","white","white","white","white"]}},
"stroke":{"field":"i","type":"nominal","legend":{"orient":"none","legendX":914,"legendY":-168.5,"title":null,"padding":0,"labelExpr":"'i=' + datum.label","labelFont":"Liberation Sans","labelFontSize":23,"labelColor":"black","labelOffset":9,"symbolSize":185,"symbolStrokeWidth":2,"rowPadding":2},"scale":{"domain":[1,2,3,4,5,6,7,8,9,10,11,12],"range":["transparent","transparent","transparent","transparent","transparent","transparent","transparent","#3d3b0a","#13821a","#22a6e0","#e8157f","#ff7514"]}}
}},
{"mark":{"type":"point","opacity":0},
"encoding":{
"x":{"field":"x","type":"quantitative","scale":{"domain":[0,55],"nice":false,"zero":false},"axis":{"orient":"bottom","values":[5,15,25,35,45,55],"tickSize":-4,"labels":false,"title":null}},
"y":{"field":"y","type":"quantitative","scale":{"domain":[-0.15,0.153],"nice":false,"zero":false},"axis":{"orient":"left","values":[-0.05,0.05],"tickSize":-4,"labels":false,"title":null}}}},
{"mark":{"type":"point","opacity":0},
"encoding":{
"x":{"field":"x","type":"quantitative","scale":{"domain":[0,55],"nice":false,"zero":false},"axis":{"orient":"top","values":[0,10,20,30,40,50],"tickSize":-7,"labels":false,"title":null}},
"y":{"field":"y","type":"quantitative","scale":{"domain":[-0.15,0.153],"nice":false,"zero":false},"axis":{"orient":"right","values":[-0.1,0,0.1],"tickSize":-7,"labels":false,"title":null}}}},
{"mark":{"type":"point","opacity":0},
"encoding":{
"x":{"field":"x","type":"quantitative","scale":{"domain":[0,55],"nice":false,"zero":false},"axis":{"orient":"top","values":[5,15,25,35,45,55],"tickSize":-4,"labels":false,"title":null}},
"y":{"field":"y","type":"quantitative","scale":{"domain":[-0.15,0.153],"nice":false,"zero":false},"axis":{"orient":"right","values":[-0.05,0.05],"tickSize":-4,"labels":false,"title":null}}}},
{"data":{"values":[{}]},"mark":{"type":"text","text":"(b)","fontSize":24,"font":"Liberation Sans","color":"black","align":"center","baseline":"middle"},
"encoding":{"x":{"datum":50.6,"type":"quantitative","axis":null},"y":{"datum":0.108,"type":"quantitative","axis":null}}}
],
"resolve":{"axis":{"x":"independent","y":"independent"}}}
]
}
